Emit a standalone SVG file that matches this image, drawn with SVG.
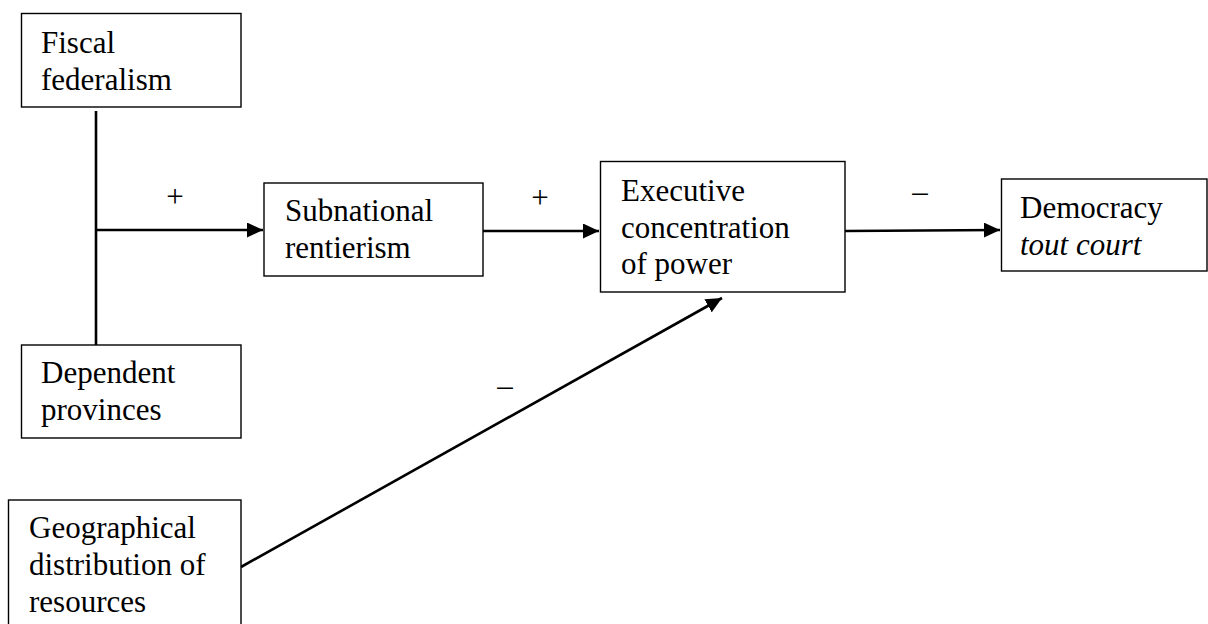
<svg xmlns="http://www.w3.org/2000/svg" width="1208" height="624" viewBox="0 0 1208 624">
<style>
  .box { fill: #ffffff; stroke: #000000; stroke-width: 1.4; }
  .t { font-family: "Liberation Serif", "Times New Roman", serif; font-size: 31px; fill: #000000; }
  .it { font-style: italic; }
  .lbl { font-family: "Liberation Serif", "Times New Roman", serif; font-size: 31px; fill: #000000; text-anchor: middle; }
  .c { fill: none; stroke: #000000; stroke-width: 2.6; }
</style>
<defs>
  <marker id="arrow" markerUnits="userSpaceOnUse" markerWidth="16" markerHeight="15" refX="16" refY="7.5" orient="auto">
    <path d="M0,0 L16,7.5 L0,15 z" fill="#000000"/>
  </marker>
</defs>
<rect width="1208" height="624" fill="#ffffff"/>

<g id="connectors">
  <line class="c" x1="96" y1="111" x2="96" y2="345"/>
  <line class="c" x1="96" y1="230" x2="263" y2="230" marker-end="url(#arrow)"/>
  <line class="c" x1="483" y1="231" x2="599" y2="231" marker-end="url(#arrow)"/>
  <line class="c" x1="845" y1="231" x2="1000" y2="230" marker-end="url(#arrow)"/>
  <line class="c" x1="241" y1="567" x2="722" y2="298" marker-end="url(#arrow)"/>
</g>

<g id="labels">
  <text class="lbl" x="175" y="207">+</text>
  <text class="lbl" x="540" y="208">+</text>
  <text class="lbl" x="920" y="202">–</text>
  <text class="lbl" x="505" y="396">–</text>
</g>

<g id="fiscal">
  <rect class="box" x="21.5" y="13.5" width="219.5" height="93.5"/>
  <text class="t" x="41" y="53">Fiscal</text>
  <text class="t" x="41" y="90">federalism</text>
</g>

<g id="dependent">
  <rect class="box" x="21.5" y="345" width="219.5" height="93"/>
  <text class="t" x="41" y="383">Dependent</text>
  <text class="t" x="41" y="420">provinces</text>
</g>

<g id="geographical">
  <rect class="box" x="8.5" y="500" width="232.5" height="130"/>
  <text class="t" x="29" y="538">Geographical</text>
  <text class="t" x="29" y="575">distribution of</text>
  <text class="t" x="29" y="612">resources</text>
</g>

<g id="subnational">
  <rect class="box" x="264" y="183" width="219" height="93"/>
  <text class="t" x="285" y="221">Subnational</text>
  <text class="t" x="285" y="258">rentierism</text>
</g>

<g id="executive">
  <rect class="box" x="600.5" y="161.5" width="244.5" height="130.5"/>
  <text class="t" x="621" y="201">Executive</text>
  <text class="t" x="621" y="238">concentration</text>
  <text class="t" x="621" y="274">of power</text>
</g>

<g id="democracy">
  <rect class="box" x="1001.5" y="179" width="205.5" height="92"/>
  <text class="t" x="1020" y="218">Democracy</text>
  <text class="t it" x="1020" y="255">tout court</text>
</g>
</svg>
